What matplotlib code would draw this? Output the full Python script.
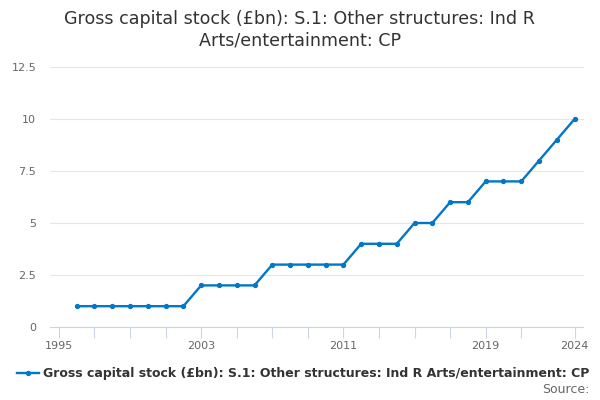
import matplotlib
matplotlib.use("Agg")
import matplotlib.pyplot as plt

# series
years = list(range(1996, 2025))
values = [1, 1, 1, 1, 1, 1, 1,
          2, 2, 2, 2,
          3, 3, 3, 3, 3,
          4, 4, 4,
          5, 5,
          6, 6,
          7, 7, 7,
          8, 9, 10]
label_years = [1995, 2003, 2011, 2019, 2024]
tick_years = list(range(1995, 2022, 2)) + [2024]
y_ticks = [0, 2.5, 5, 7.5, 10, 12.5]
y_labels = ["0", "2.5", "5", "7.5", "10", "12.5"]
title = "Gross capital stock (£bn): S.1: Other structures: Ind R\nArts/entertainment: CP"
series_name = "Gross capital stock (£bn): S.1: Other structures: Ind R Arts/entertainment: CP"

plt.rcParams['font.family'] = ['DejaVu Sans']
fig = plt.figure(figsize=(6, 4), dpi=100)
ax = fig.add_axes([50/600, 1 - 327/400, 533.5/600, 260/400])

line_col = "#0077c8"
ax.plot(years, values, color=line_col, lw=1.7, marker="o", ms=2.8, label=series_name)

ax.set_xlim(1994.5, 2024.5)
ax.set_ylim(0, 12.5)
ax.set_yticks(y_ticks)
ax.set_yticklabels(y_labels, color="#666666", fontsize=8)
ax.yaxis.grid(True, color="#e6e6e6", lw=0.8)
ax.tick_params(axis="y", length=0, pad=10)

ax.set_xticks(tick_years)
ax.set_xticklabels([str(y) if y in label_years else "" for y in tick_years],
                   color="#666666", fontsize=8)
ax.tick_params(axis="x", length=8, color="#ccd6eb", pad=2)

for s in ["top", "right", "left"]:
    ax.spines[s].set_visible(False)
ax.spines["bottom"].set_color("#ccd6eb")
ax.set_axisbelow(True)

fig.suptitle(title, y=0.975, fontsize=12.6, color="#333333", linespacing=1.28)

fig.legend(loc="lower center", bbox_to_anchor=(0.505, 0.022), frameon=False,
           prop={"size": 9, "weight": "bold"}, labelcolor="#333333",
           handlelength=1.8, handletextpad=0.3)
fig.text(0.982, 0.01, "Source:", ha="right", va="bottom", fontsize=9, color="#666666")

fig.savefig("out.png")
